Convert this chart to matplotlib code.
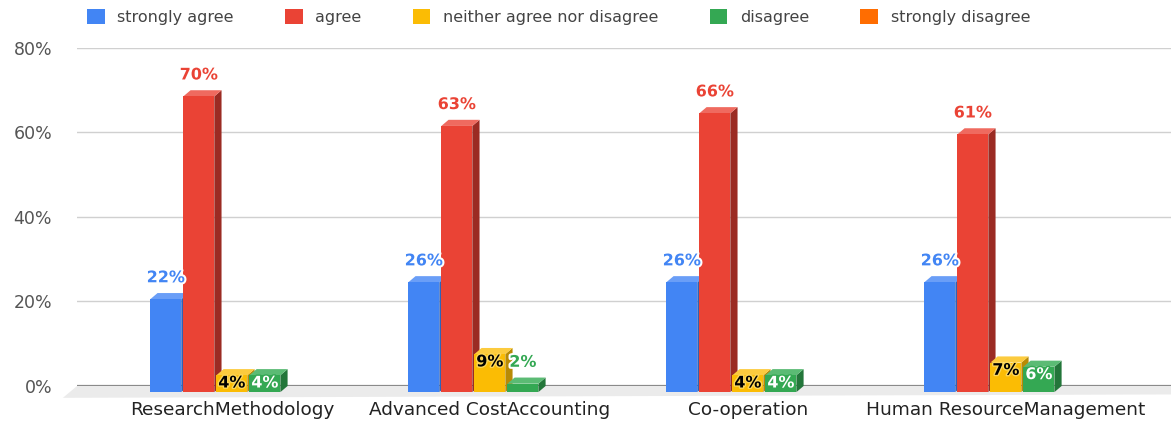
import matplotlib.pyplot as plt
import matplotlib.patheffects as pe
from matplotlib.patches import Patch, Polygon, Rectangle

plt.rcParams["font.family"] = ["DejaVu Sans"]

# chart data
categories = ["ResearchMethodology", "Advanced CostAccounting", "Co-operation",
              "Human ResourceManagement"]
series = ["strongly agree", "agree", "neither agree nor disagree", "disagree",
          "strongly disagree"]
strongly_agree = [22, 26, 26, 26]
agree = [70, 63, 66, 61]
neutral = [4, 9, 4, 7]
disagree = [4, 2, 4, 6]
strongly_disagree = [0, 0, 0, 0]
values = [strongly_agree, agree, neutral, disagree, strongly_disagree]

# face colours: front, side, top
front = ["#4285F4", "#EA4335", "#FBBC04", "#34A853", "#FF6D01"]
side = ["#2F62B8", "#9B2B23", "#B88A05", "#23763A", "#B84F02"]
top = ["#6A9EF7", "#EF6A5F", "#FCCB3E", "#5BBB74", "#FF8A33"]

fig = plt.figure(figsize=(11.71, 4.22), dpi=100)
ax = fig.add_axes([0.0658, 0.0853, 0.9342, 0.801])
ax.set_xlim(-0.6, 3.64)
ax.set_ylim(0, 80)

slot = 0.128
width = 0.12
dx = 0.028   # depth of the 3d bars in category units
dy = 1.45    # depth of the 3d bars in percent units

# floor of the 3d chart
ax.add_patch(Polygon([(-0.6, 0), (3.64, 0), (3.64, -2.0), (-0.655, -2.8)],
                     closed=True, facecolor="#ebebeb", edgecolor="none",
                     clip_on=False, zorder=1))
ax.axhline(0, color="#8a8a8a", lw=1.6, zorder=2)

for i in range(len(categories)):
    for j, vals in enumerate(values):
        v = vals[i]
        if v <= 0:
            continue
        x0 = i + (j - 2) * slot - width / 2
        y0 = -dy
        z = 3 + i * 10 + j
        ax.add_patch(Polygon([(x0 + width, y0), (x0 + width + dx, 0),
                              (x0 + width + dx, v), (x0 + width, v - dy)],
                             closed=True, facecolor=side[j], edgecolor="none",
                             clip_on=False, zorder=z))
        ax.add_patch(Polygon([(x0, v - dy), (x0 + dx, v),
                              (x0 + width + dx, v), (x0 + width, v - dy)],
                             closed=True, facecolor=top[j], edgecolor="none",
                             clip_on=False, zorder=z))
        ax.add_patch(Rectangle((x0, y0), width, v, facecolor=front[j],
                               edgecolor="none", clip_on=False, zorder=z))

        # data labels
        xc = x0 + width / 2
        inside = 3 <= v < 10
        if inside:
            colour = "black" if j == 2 else "white"
            halo = "#FCD65A" if j == 2 else front[j]
            ax.annotate(f"{v}%", (xc, v), xytext=(0, -10), textcoords="offset points",
                        ha="center", va="center", fontsize=11.5, fontweight="bold",
                        color=colour, zorder=100,
                        path_effects=[pe.withStroke(linewidth=2, foreground=halo)])
        else:
            ax.annotate(f"{v}%", (xc, v), xytext=(0, 11), textcoords="offset points",
                        ha="center", va="center", fontsize=11.5, fontweight="bold",
                        color=front[j], zorder=100,
                        path_effects=[pe.withStroke(linewidth=3, foreground="white")])

ax.set_yticks([0, 20, 40, 60, 80])
ax.set_yticklabels(["0%", "20%", "40%", "60%", "80%"])
ax.set_xticks(range(len(categories)))
ax.set_xticklabels(categories)
ax.tick_params(axis="y", length=0, pad=18, labelsize=12.5, labelcolor="#555555")
ax.tick_params(axis="x", length=0, pad=11, labelsize=13.3, labelcolor="#222222")
ax.grid(axis="y", color="#d0d0d0", lw=1)
ax.set_axisbelow(True)
for s in ax.spines.values():
    s.set_visible(False)

handles = [Patch(facecolor=c, edgecolor="none") for c in front]
fig.legend(handles, series, loc="upper center", bbox_to_anchor=(0.477, 1.012),
           ncol=5, frameon=False, fontsize=11.5, labelcolor="#444444",
           handlelength=1.1, handleheight=1.0, handletextpad=0.8,
           columnspacing=3.2)

fig.savefig("out.png", dpi=100)
